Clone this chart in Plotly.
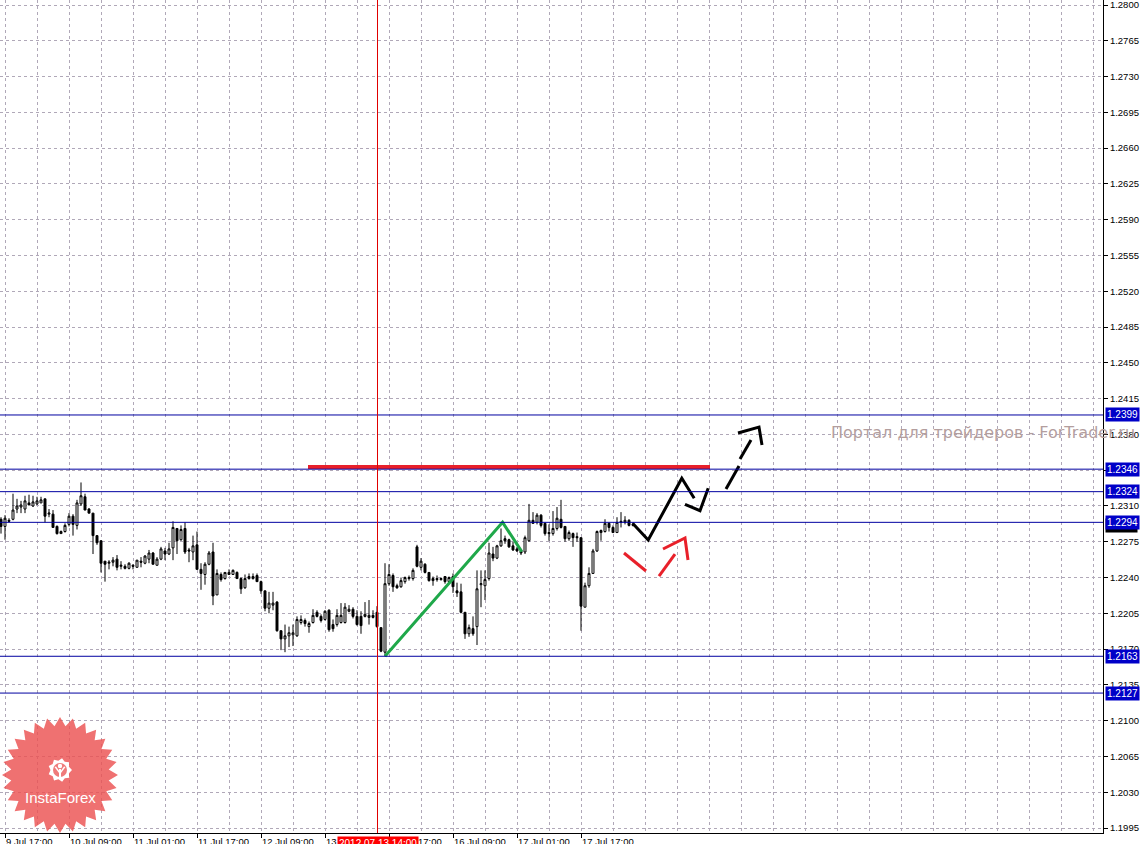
import math
import plotly.graph_objects as go

# ---------------- data (H1 bars, first bar index = -1) ----------------
first_bar = -1
opens = [1.2297, 1.2290, 1.2296, 1.2297, 1.2307, 1.2309, 1.2307, 1.2313, 1.2310, 1.2312,
         1.2313, 1.2317, 1.2302, 1.2302, 1.2290, 1.2283, 1.2285, 1.2292, 1.2300, 1.2291,
         1.2312, 1.2319, 1.2307, 1.2303, 1.2281, 1.2276, 1.2256, 1.2254, 1.2255, 1.2258,
         1.2251, 1.2251, 1.2249, 1.2252, 1.2250, 1.2256, 1.2254, 1.2258, 1.2264, 1.2252,
         1.2258, 1.2266, 1.2263, 1.2269, 1.2288, 1.2277, 1.2288, 1.2267, 1.2265, 1.2272,
         1.2248, 1.2243, 1.2253, 1.2265, 1.2223, 1.2243, 1.2239, 1.2243, 1.2243, 1.2245,
         1.2239, 1.2230, 1.2239, 1.2239, 1.2242, 1.2236, 1.2227, 1.2210, 1.2213, 1.2216,
         1.2188, 1.2180, 1.2183, 1.2184, 1.2183, 1.2196, 1.2198, 1.2192, 1.2196, 1.2206,
         1.2202, 1.2199, 1.2208, 1.2194, 1.2194, 1.2196, 1.2196, 1.2207, 1.2209, 1.2202,
         1.2202, 1.2202, 1.2201, 1.2203, 1.2206, 1.2191, 1.2167, 1.2234, 1.2242, 1.2232,
         1.2231, 1.2236, 1.2239, 1.2239, 1.2270, 1.2250, 1.2253, 1.2245, 1.2239, 1.2239,
         1.2238, 1.2241, 1.2236, 1.2241, 1.2227, 1.2226, 1.2206, 1.2185, 1.2190, 1.2192,
         1.2233, 1.2232, 1.2239, 1.2263, 1.2259, 1.2271, 1.2278, 1.2277, 1.2271, 1.2268,
         1.2266, 1.2265, 1.2276, 1.2296, 1.2294, 1.2301, 1.2293, 1.2284, 1.2283, 1.2288,
         1.2297, 1.2290, 1.2278, 1.2283, 1.2280, 1.2279, 1.2211, 1.2232, 1.2244, 1.2266,
         1.2284, 1.2285, 1.2293, 1.2289, 1.2284, 1.2295, 1.2294, 1.2296, 1.2292]
highs = [1.2299, 1.2301, 1.2298, 1.2322, 1.2317, 1.2315, 1.2320, 1.2321, 1.2320, 1.2319,
         1.2319, 1.2317, 1.2307, 1.2306, 1.2291, 1.2286, 1.2293, 1.2303, 1.2302, 1.2316,
         1.2333, 1.2322, 1.2308, 1.2303, 1.2281, 1.2276, 1.2256, 1.2257, 1.2260, 1.2262,
         1.2256, 1.2253, 1.2255, 1.2253, 1.2257, 1.2260, 1.2262, 1.2267, 1.2265, 1.2260,
         1.2270, 1.2269, 1.2274, 1.2295, 1.2288, 1.2291, 1.2294, 1.2269, 1.2281, 1.2285,
         1.2254, 1.2255, 1.2266, 1.2274, 1.2248, 1.2245, 1.2245, 1.2248, 1.2248, 1.2246,
         1.2240, 1.2243, 1.2244, 1.2244, 1.2244, 1.2237, 1.2227, 1.2226, 1.2226, 1.2217,
         1.2188, 1.2194, 1.2192, 1.2194, 1.2202, 1.2203, 1.2200, 1.2197, 1.2209, 1.2208,
         1.2204, 1.2208, 1.2209, 1.2199, 1.2209, 1.2215, 1.2215, 1.2213, 1.2211, 1.2208,
         1.2207, 1.2216, 1.2218, 1.2208, 1.2212, 1.2191, 1.2254, 1.2253, 1.2244, 1.2234,
         1.2240, 1.2241, 1.2242, 1.2249, 1.2272, 1.2259, 1.2254, 1.2245, 1.2241, 1.2242,
         1.2240, 1.2241, 1.2241, 1.2244, 1.2235, 1.2234, 1.2206, 1.2194, 1.2202, 1.2247,
         1.2247, 1.2247, 1.2274, 1.2270, 1.2272, 1.2288, 1.2281, 1.2278, 1.2275, 1.2270,
         1.2267, 1.2281, 1.2312, 1.2304, 1.2303, 1.2302, 1.2294, 1.2292, 1.2305, 1.2309,
         1.2316, 1.2290, 1.2286, 1.2284, 1.2284, 1.2279, 1.2235, 1.2250, 1.2268, 1.2286,
         1.2287, 1.2297, 1.2294, 1.2291, 1.2299, 1.2304, 1.2300, 1.2297, 1.2294]
lows = [1.2283, 1.2277, 1.2294, 1.2296, 1.2303, 1.2303, 1.2303, 1.2311, 1.2309, 1.2311,
        1.2313, 1.2294, 1.2299, 1.2289, 1.2282, 1.2283, 1.2284, 1.2290, 1.2281, 1.2287,
        1.2310, 1.2306, 1.2303, 1.2263, 1.2272, 1.2245, 1.2236, 1.2248, 1.2251, 1.2247,
        1.2248, 1.2248, 1.2248, 1.2248, 1.2250, 1.2250, 1.2253, 1.2254, 1.2253, 1.2252,
        1.2257, 1.2257, 1.2262, 1.2257, 1.2263, 1.2276, 1.2263, 1.2255, 1.2257, 1.2248,
        1.2228, 1.2233, 1.2252, 1.2213, 1.2223, 1.2236, 1.2238, 1.2243, 1.2243, 1.2239,
        1.2224, 1.2229, 1.2238, 1.2238, 1.2236, 1.2224, 1.2207, 1.2205, 1.2208, 1.2187,
        1.2169, 1.2167, 1.2172, 1.2173, 1.2182, 1.2194, 1.2192, 1.2186, 1.2195, 1.2201,
        1.2196, 1.2198, 1.2187, 1.2187, 1.2192, 1.2195, 1.2195, 1.2206, 1.2200, 1.2193,
        1.2185, 1.2201, 1.2194, 1.2200, 1.2191, 1.2167, 1.2163, 1.2232, 1.2226, 1.2229,
        1.2230, 1.2234, 1.2237, 1.2237, 1.2250, 1.2247, 1.2244, 1.2236, 1.2232, 1.2236,
        1.2237, 1.2234, 1.2236, 1.2225, 1.2221, 1.2205, 1.2180, 1.2182, 1.2183, 1.2174,
        1.2211, 1.2218, 1.2237, 1.2256, 1.2258, 1.2270, 1.2273, 1.2269, 1.2266, 1.2265,
        1.2262, 1.2263, 1.2275, 1.2293, 1.2292, 1.2289, 1.2281, 1.2276, 1.2281, 1.2286,
        1.2288, 1.2275, 1.2276, 1.2270, 1.2275, 1.2188, 1.2211, 1.2230, 1.2244, 1.2265,
        1.2276, 1.2284, 1.2285, 1.2284, 1.2284, 1.2289, 1.2292, 1.2290, 1.2290]
closes = [1.2290, 1.2298, 1.2295, 1.2306, 1.2310, 1.2311, 1.2315, 1.2311, 1.2314, 1.2315,
          1.2316, 1.2300, 1.2303, 1.2289, 1.2283, 1.2285, 1.2291, 1.2300, 1.2292, 1.2313,
          1.2320, 1.2306, 1.2303, 1.2281, 1.2274, 1.2254, 1.2253, 1.2255, 1.2257, 1.2250,
          1.2252, 1.2249, 1.2254, 1.2251, 1.2257, 1.2255, 1.2261, 1.2264, 1.2253, 1.2258,
          1.2268, 1.2263, 1.2268, 1.2289, 1.2276, 1.2287, 1.2265, 1.2266, 1.2271, 1.2248,
          1.2244, 1.2253, 1.2264, 1.2222, 1.2244, 1.2238, 1.2245, 1.2245, 1.2247, 1.2239,
          1.2229, 1.2239, 1.2241, 1.2241, 1.2236, 1.2227, 1.2210, 1.2215, 1.2215, 1.2188,
          1.2180, 1.2183, 1.2186, 1.2186, 1.2199, 1.2199, 1.2195, 1.2195, 1.2203, 1.2202,
          1.2198, 1.2207, 1.2189, 1.2190, 1.2203, 1.2203, 1.2211, 1.2209, 1.2202, 1.2194,
          1.2193, 1.2204, 1.2203, 1.2201, 1.2192, 1.2168, 1.2234, 1.2243, 1.2231, 1.2230,
          1.2237, 1.2240, 1.2240, 1.2247, 1.2251, 1.2256, 1.2245, 1.2237, 1.2237, 1.2238,
          1.2239, 1.2236, 1.2240, 1.2231, 1.2225, 1.2206, 1.2185, 1.2191, 1.2185, 1.2229,
          1.2234, 1.2238, 1.2264, 1.2259, 1.2271, 1.2276, 1.2276, 1.2270, 1.2267, 1.2266,
          1.2264, 1.2279, 1.2296, 1.2293, 1.2301, 1.2291, 1.2283, 1.2283, 1.2288, 1.2298,
          1.2289, 1.2278, 1.2284, 1.2279, 1.2279, 1.2212, 1.2232, 1.2244, 1.2266, 1.2285,
          1.2286, 1.2293, 1.2289, 1.2284, 1.2294, 1.2294, 1.2296, 1.2291, 1.2291]

tick_bars = [0, 16, 32, 48, 64, 80, 96, 112, 128, 144]
tick_labels = ["9 Jul 17:00", "10 Jul 09:00", "11 Jul 01:00", "11 Jul 17:00", "12 Jul 09:00",
               "13 Jul 01:00", "13 Jul 17:00", "16 Jul 09:00", "17 Jul 01:00", "17 Jul 17:00"]

level_prices = [1.2399, 1.2346, 1.2324, 1.2294, 1.2163, 1.2127]
current_price = 1.2291
crosshair_bar = 93.125
crosshair_label = "2012.07.13 14:00"

resistance_bars = [75.75, 176.25]
resistance_prices = [1.2348, 1.2348]
green_bars = [95, 124.4, 129.2]
green_prices = [1.2163, 1.2294, 1.22653]
black_bars = [156.9, 160.8, 169.2, 172.3, None, 170.0, 173.75, 175.8]
black_prices = [1.22931, 1.22767, 1.23371, 1.23175, None, 1.23116, 1.23054, 1.23273]
dashed_bars = [180.25, 183.5, None, 183.75, 186.5, None, 183.25, 188.5, 189.25]
dashed_prices = [1.23266, 1.23491, None, 1.23560, 1.23745, None, 1.23814, 1.23872, 1.23696]
red_bars = [154.75, 160.25, None, 163.5, 167.5, None, 164.5, 170.0, 170.75]
red_prices = [1.22640, 1.22464, None, 1.22415, 1.22630, None, 1.22679, 1.22787, 1.22572]

watermark_text = "Портал для трейдеров - ForTrader.ru"
watermark_bar = 206
watermark_price = 1.23814

# ---------------- figure ----------------
bars = list(range(first_bar, first_bar + len(opens)))
GRID = "#B0A8B8"
NAVY = "#0000A0"
TICKFONT = dict(family="Liberation Sans", size=9.5, color="black")

fig = go.Figure()
fig.add_trace(go.Candlestick(
    x=bars, open=opens, high=highs, low=lows, close=closes,
    increasing=dict(line=dict(color="black", width=1), fillcolor="white"),
    decreasing=dict(line=dict(color="black", width=1), fillcolor="black"),
    whiskerwidth=0, hoverinfo="skip", showlegend=False))

fig.add_trace(go.Scatter(x=resistance_bars, y=resistance_prices, mode="lines",
                         line=dict(color="#E8202A", width=4), hoverinfo="skip", showlegend=False))
fig.add_trace(go.Scatter(x=green_bars, y=green_prices, mode="lines",
                         line=dict(color="#1FA84A", width=3), hoverinfo="skip", showlegend=False))
fig.add_trace(go.Scatter(x=black_bars, y=black_prices, mode="lines", connectgaps=False,
                         line=dict(color="black", width=3), hoverinfo="skip", showlegend=False))
fig.add_trace(go.Scatter(x=dashed_bars, y=dashed_prices, mode="lines", connectgaps=False,
                         line=dict(color="black", width=3), hoverinfo="skip", showlegend=False))
fig.add_trace(go.Scatter(x=red_bars, y=red_prices, mode="lines", connectgaps=False,
                         line=dict(color="#E8202A", width=3), hoverinfo="skip", showlegend=False))

shapes = []
for p in level_prices:
    shapes.append(dict(type="line", xref="paper", x0=0, x1=1, yref="y", y0=p, y1=p,
                       line=dict(color=NAVY, width=1), layer="above"))
shapes.append(dict(type="line", xref="x", x0=crosshair_bar, x1=crosshair_bar, yref="paper",
                   y0=0, y1=1, line=dict(color="#E00000", width=1), layer="above"))

# InstaForex badge (paper coordinates of the plot area)
W, H = 1103, 833


def pp(px, py):
    return px / W, 1 - py / H


def poly(points):
    return "M " + " L ".join(f"{x:.5f},{y:.5f}" for x, y in points) + " Z"


def star(cx, cy, r_out, r_in, n, rot=0.0):
    pts = []
    for i in range(2 * n):
        r = r_out if i % 2 == 0 else r_in
        a = -math.pi / 2 + rot + i * math.pi / n
        pts.append(pp(cx + r * math.cos(a), cy + r * math.sin(a)))
    return poly(pts)


def circle(cx, cy, r, color):
    x0, y0 = pp(cx - r, cy + r)
    x1, y1 = pp(cx + r, cy - r)
    return dict(type="circle", xref="paper", yref="paper", x0=x0, x1=x1, y0=y0, y1=y1,
                fillcolor=color, line=dict(width=0), layer="above")


BADGE = "rgba(236,82,82,0.82)"
shapes.append(dict(type="path", xref="paper", yref="paper", path=star(60, 775, 58, 49, 28),
                   fillcolor=BADGE, line=dict(width=0), layer="above"))
shapes.append(dict(type="path", xref="paper", yref="paper", path=star(60, 770, 12, 9.5, 9, 0.17),
                   fillcolor="white", line=dict(width=0), layer="above"))
shapes.append(circle(60, 770, 7, "#EF7A7A"))
shapes.append(circle(60, 766, 2.2, "white"))
shapes.append(dict(type="path", xref="paper", yref="paper",
                   path=poly([pp(59, 769), pp(61, 769), pp(61, 779), pp(59, 779)]),
                   fillcolor="white", line=dict(width=0), layer="above"))
shapes.append(dict(type="path", xref="paper", yref="paper",
                   path=poly([pp(54.5, 767), pp(56, 766.5), pp(60, 772), pp(59, 773)]),
                   fillcolor="white", line=dict(width=0), layer="above"))
shapes.append(dict(type="path", xref="paper", yref="paper",
                   path=poly([pp(65.5, 767), pp(64, 766.5), pp(60, 772), pp(61, 773)]),
                   fillcolor="white", line=dict(width=0), layer="above"))

annotations = []
annotations.append(dict(xref="x", yref="y", x=watermark_bar, y=watermark_price, text=watermark_text,
                        showarrow=False, xanchor="left", yanchor="middle",
                        font=dict(family="DejaVu Sans", size=16, color="#B39E9E")))
annotations.append(dict(xref="paper", yref="y", x=1, y=current_price, text=f"{current_price:.4f}",
                        showarrow=False, xanchor="left", yanchor="middle", xshift=2,
                        bgcolor="black", borderpad=1,
                        font=dict(family="Liberation Sans", size=9.5, color="white")))
for p in level_prices:
    annotations.append(dict(xref="paper", yref="y", x=1, y=p, text=f"{p:.4f}",
                            showarrow=False, xanchor="left", yanchor="middle", xshift=2,
                            bgcolor="#0000C8", borderpad=1,
                            font=dict(family="Liberation Sans", size=10, color="white")))
annotations.append(dict(xref="x", yref="paper", x=crosshair_bar, y=0, text=crosshair_label,
                        showarrow=False, xanchor="center", yanchor="top", yshift=-3,
                        bgcolor="#FF0000", borderpad=1,
                        font=dict(family="Liberation Sans", size=10, color="white")))
annotations.append(dict(xref="paper", yref="paper", x=60 / W, y=1 - 797 / H, text="InstaForex",
                        showarrow=False, xanchor="center", yanchor="middle",
                        font=dict(family="Liberation Sans", size=15, color="white")))

fig.update_layout(
    width=1145, height=844,
    margin=dict(l=0, r=42, t=0, b=11, pad=0),
    paper_bgcolor="white", plot_bgcolor="white",
    showlegend=False,
    shapes=shapes, annotations=annotations,
    xaxis=dict(
        range=[-1.25, 274.5], rangeslider=dict(visible=False),
        tickmode="array", tickvals=tick_bars, ticktext=tick_labels,
        ticks="outside", ticklen=4, tickcolor="black", tickwidth=1,
        ticklabelposition="outside right", ticklabeloverflow="allow", tickfont=TICKFONT,
        showline=True, linecolor="black", linewidth=1,
        showgrid=True, gridcolor=GRID, gridwidth=1, griddash="3px,3px",
        minor=dict(tickmode="linear", tick0=0, dtick=8, showgrid=True, gridcolor=GRID,
                   griddash="3px,3px", ticks=""),
        zeroline=False, automargin=False, fixedrange=True),
    yaxis=dict(
        range=[1.199014, 1.280489], side="right",
        tickmode="linear", tick0=1.1995, dtick=0.0035, tickformat=".4f",
        ticks="outside", ticklen=4, tickcolor="black", tickwidth=1, tickfont=TICKFONT,
        ticklabeloverflow="allow",
        showline=True, linecolor="black", linewidth=1,
        showgrid=True, gridcolor=GRID, gridwidth=1, griddash="3px,3px",
        zeroline=False, automargin=False, fixedrange=True),
)

fig.write_html("out.html", config={"displayModeBar": False},
               post_script="document.body.style.margin='0';document.body.style.padding='0';"
                           "document.body.style.overflow='hidden';")
